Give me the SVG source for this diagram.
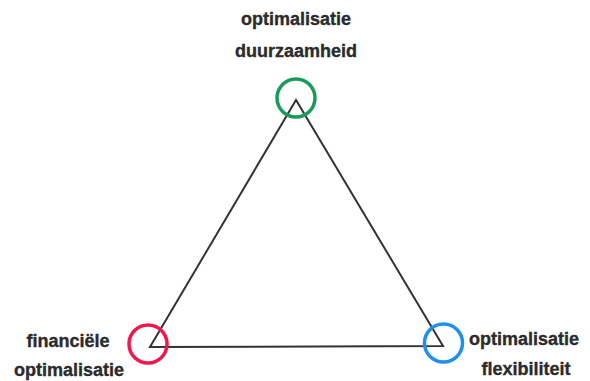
<svg xmlns="http://www.w3.org/2000/svg" width="590" height="381" viewBox="0 0 590 381">
<style>
.lbl{font-family:"Liberation Sans",Arial,sans-serif;font-weight:bold;font-size:18px;fill:#2b2b2b;stroke:#2b2b2b;stroke-width:0.35;text-anchor:middle}
.edge{stroke:#333;stroke-width:2;fill:none;stroke-linejoin:miter}
.node{fill:none;stroke-width:3.5}
</style>
<rect width="590" height="381" fill="#fff"/>
<g id="connectors">
<polygon class="edge" points="296,100 150,347 443,346"/>
</g>
<g id="node-duurzaamheid">
<circle class="node" cx="296" cy="98" r="19" stroke="#1a9a5a"/>
<text class="lbl" x="296" y="25">optimalisatie</text>
<text class="lbl" x="296" y="57">duurzaamheid</text>
</g>
<g id="node-financieel">
<circle class="node" cx="148" cy="344" r="19" stroke="#f0174f"/>
<text class="lbl" x="68" y="347">financiële</text>
<text class="lbl" x="69" y="376">optimalisatie</text>
</g>
<g id="node-flexibiliteit">
<circle class="node" cx="443.5" cy="343" r="19" stroke="#1e90f0"/>
<text class="lbl" x="524" y="345">optimalisatie</text>
<text class="lbl" x="526" y="375">flexibiliteit</text>
</g>
</svg>
